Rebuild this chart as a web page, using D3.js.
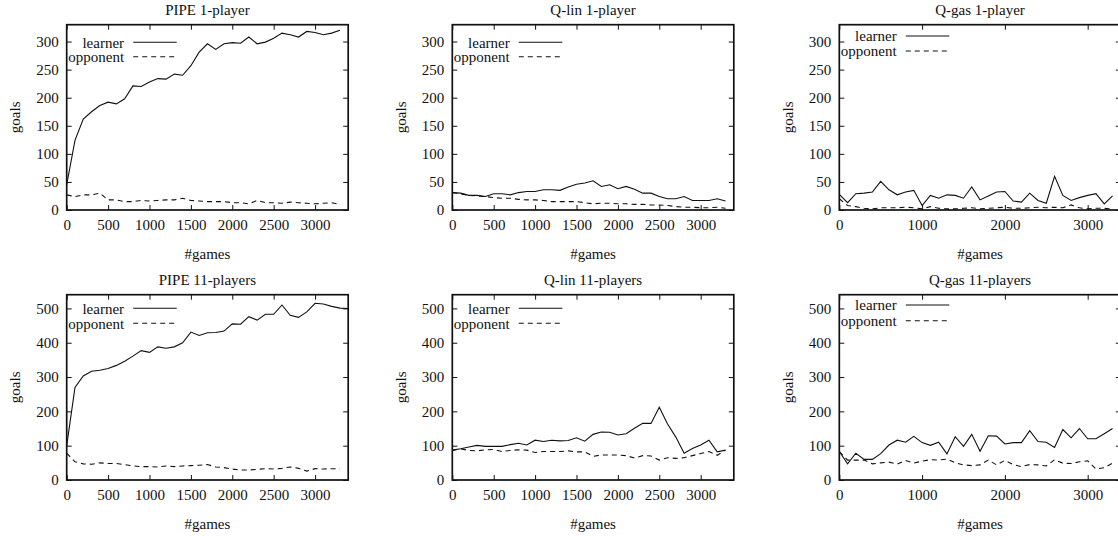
<!DOCTYPE html>
<html><head><meta charset="utf-8">
<script src="https://cdn.jsdelivr.net/npm/d3@7"></script>
<style>
body{margin:0;background:#fff;overflow:hidden}
svg text{font-family:"Liberation Serif","Times New Roman",serif !important;fill:#111;font-size:15px}
</style>
</head><body><svg id="c" width="1118" height="540" font-family="Liberation Serif"></svg>
<script>
// ---- data ----
const games = [0,100,200,300,400,500,600,700,800,900,1000,1100,1200,1300,1400,1500,1600,1700,1800,1900,2000,2100,2200,2300,2400,2500,2600,2700,2800,2900,3000,3100,3200,3300,3400];
const titles = ["PIPE 1-player","Q-lin 1-player","Q-gas 1-player","PIPE 11-players","Q-lin 11-players","Q-gas 11-players"];
const seriesNames = ["learner","opponent"];

const pipe1Learner  = [45,124,162,175,186,192,189,198,221,220,228,234,233,242,240,257,281,296,286,296,298,297,308,296,299,306,315,312,308,318,316,312,315,320];
const pipe1Opponent = [27,24,27,27,30,18,18,15,15,17,16,17,18,18,21,17,16,15,15,15,13,13,11,17,13,13,12,14,13,12,11,12,13,10];
const qlin1Learner  = [31,30,26,26,24,29,29,27,31,33,33,36,36,35,41,46,48,52,42,45,38,42,37,30,30,24,20,20,24,17,17,17,20,16];
const qlin1Opponent = [31,29,26,25,24,22,21,21,19,18,18,17,15,15,15,15,13,11,12,12,11,11,10,10,9,9,8,6,5,5,4,4,5,3];
const qgas1Learner  = [28,13,29,30,32,51,36,27,32,35,8,26,21,27,26,21,41,18,25,32,33,16,14,30,17,12,60,26,17,22,26,29,11,25];
const qgas1Opponent = [20,8,6,3,2,4,4,4,5,4,2,6,3,2,2,3,4,2,3,4,5,3,3,4,5,4,5,4,9,4,2,3,3,2];
const pipe11Learner  = [100,270,303,317,320,325,334,346,361,377,372,388,384,388,400,431,421,429,430,434,455,454,476,466,483,483,510,480,474,490,515,513,506,501,500];
const pipe11Opponent = [78,53,47,46,50,48,48,45,41,39,39,38,41,39,41,42,43,45,38,36,32,29,29,31,33,32,34,38,34,26,33,32,33,33];
const qlin11Learner  = [87,91,96,101,98,98,98,103,107,102,116,112,116,114,115,123,113,133,140,139,131,135,151,165,165,212,163,125,78,92,102,116,82,87];
const qlin11Opponent = [86,91,86,85,88,89,83,86,88,87,80,83,83,83,85,82,82,69,73,73,73,71,64,71,70,58,65,63,65,71,77,83,72,87];
const qgas11Learner  = [83,47,78,60,60,77,102,116,110,127,109,101,110,76,126,98,133,84,129,128,105,109,109,144,112,110,95,147,123,150,120,120,135,150];
const qgas11Opponent = [83,58,58,58,47,50,52,46,57,49,55,59,58,61,50,44,42,44,58,44,57,45,39,45,44,41,59,49,48,53,56,32,36,49];

const xMax = 3400;
const yMaxTop = 330, yMaxBottom = 540;
const xTicksA = [0,500,1000,1500,2000,2500,3000];
const xTicksB = [0,1000,2000,3000];
const yTicksTop = [0,50,100,150,200,250,300];
const yTicksBottom = [0,100,200,300,400,500];

const panels = [
  {title:titles[0], learner:pipe1Learner,  opponent:pipe1Opponent,  yMax:yMaxTop, yTicks:yTicksTop, xTicks:xTicksA},
  {title:titles[1], learner:qlin1Learner,  opponent:qlin1Opponent,  yMax:yMaxTop, yTicks:yTicksTop, xTicks:xTicksA},
  {title:titles[2], learner:qgas1Learner,  opponent:qgas1Opponent,  yMax:yMaxTop, yTicks:yTicksTop, xTicks:xTicksB},
  {title:titles[3], learner:pipe11Learner, opponent:pipe11Opponent, yMax:yMaxBottom, yTicks:yTicksBottom, xTicks:xTicksA},
  {title:titles[4], learner:qlin11Learner, opponent:qlin11Opponent, yMax:yMaxBottom, yTicks:yTicksBottom, xTicks:xTicksA},
  {title:titles[5], learner:qgas11Learner, opponent:qgas11Opponent, yMax:yMaxBottom, yTicks:yTicksBottom, xTicks:xTicksB}
];

// ---- layout ----
const frameLefts = [66.7, 452.3, 839.3];
const frameTops = [24.7, 294.7];
const W = 281.5, H = 185.3;
const legendY = [[17.6,32],[17.6,32],[11.3,26.3],[13.6,28.6],[13.6,28.6],[10.3,26]];
const ink = "#111";
const FONT = '"Liberation Serif","Times New Roman",serif';

const svg = d3.select("#c");

panels.forEach((p, i) => {
  const col = i % 3, row = Math.floor(i / 3);
  const g = svg.append("g").attr("transform", `translate(${frameLefts[col]},${frameTops[row]})`);
  const x = d3.scaleLinear().domain([0, xMax]).range([0, W]);
  const y = d3.scaleLinear().domain([0, p.yMax]).range([H, 0]);

  const styleAxis = sel => {
    sel.attr("font-family", FONT).attr("font-size", 15);
    sel.select(".domain").remove();
    sel.selectAll(".tick line").attr("stroke", ink).attr("stroke-width", 1);
    sel.selectAll(".tick text").attr("fill", ink);
  };
  g.append("g").attr("transform", `translate(0,${H})`)
    .call(d3.axisBottom(x).tickValues(p.xTicks).tickSize(-5).tickPadding(9).tickFormat(d3.format("d")))
    .call(styleAxis);
  g.append("g")
    .call(d3.axisTop(x).tickValues(p.xTicks).tickSize(-5).tickFormat(""))
    .call(styleAxis);
  g.append("g")
    .call(d3.axisLeft(y).tickValues(p.yTicks).tickSize(-5).tickPadding(8).tickFormat(d3.format("d")))
    .call(styleAxis);
  g.append("g").attr("transform", `translate(${W},0)`)
    .call(d3.axisRight(y).tickValues(p.yTicks).tickSize(-5).tickFormat(""))
    .call(styleAxis);

  const line = d3.line().x((d, j) => x(games[j])).y(d => y(d));
  g.append("path").datum(p.learner).attr("d", line)
    .attr("fill", "none").attr("stroke", ink).attr("stroke-width", 1.1);
  g.append("path").datum(p.opponent).attr("d", line)
    .attr("fill", "none").attr("stroke", ink).attr("stroke-width", 1.1).attr("stroke-dasharray", "5,4");

  g.append("rect").attr("width", W).attr("height", H)
    .attr("fill", "none").attr("stroke", ink).attr("stroke-width", 1.7);

  seriesNames.forEach((nm, k) => {
    const ly = legendY[i][k];
    g.append("text").attr("x", 57.4).attr("y", ly).attr("dy", "0.35em")
      .attr("text-anchor", "end").text(nm);
    g.append("line").attr("x1", 66.5).attr("x2", 110).attr("y1", ly).attr("y2", ly)
      .attr("stroke", ink).attr("stroke-width", 1.1)
      .attr("stroke-dasharray", k === 1 ? "5,4" : null);
  });

  g.append("text").attr("x", W / 2).attr("y", -9.5).attr("text-anchor", "middle").text(p.title);
  g.append("text").attr("x", W / 2).attr("y", H + 49.5).attr("text-anchor", "middle").text("#games");
  g.append("text").attr("transform", `translate(-51.5,${H / 2}) rotate(-90)`)
    .attr("text-anchor", "middle").attr("dy", "0.35em").text("goals");
});
</script>
</body></html>
